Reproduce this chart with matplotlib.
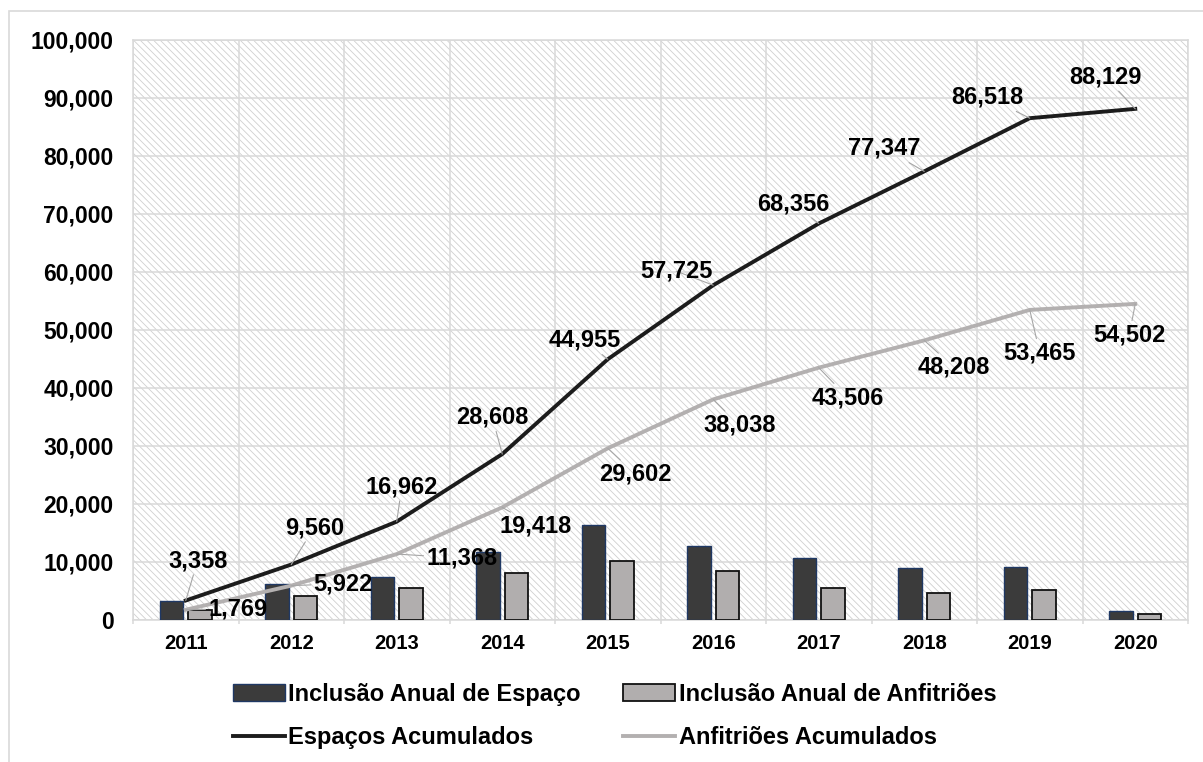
import matplotlib
matplotlib.use("Agg")
import matplotlib.pyplot as plt
from matplotlib.patches import Rectangle
from matplotlib.ticker import FuncFormatter, MultipleLocator
import numpy as np

# data
years = ["2011", "2012", "2013", "2014", "2015", "2016", "2017", "2018", "2019", "2020"]
espacos_anual = [3358, 6202, 7402, 11646, 16347, 12770, 10631, 8991, 9171, 1611]
anfitrioes_anual = [1769, 4153, 5446, 8050, 10184, 8436, 5468, 4702, 5257, 1037]
espacos_acum = [3358, 9560, 16962, 28608, 44955, 57725, 68356, 77347, 86518, 88129]
anfitrioes_acum = [1769, 5922, 11368, 19418, 29602, 38038, 43506, 48208, 53465, 54502]

# label offsets in pixels (dx, dy) from each point
esp_offsets = [(12, 40), (23, 37), (5, 35), (-10, 37), (-23, 19),
               (-37, 14), (-25, 20), (-40, 23), (-42, 21), (-30, 32)]
anf_offsets = [(52, 1), (52, 2), (65, -4), (33, -19), (28, -26),
               (26, -26), (29, -30), (30, -27), (10, -43), (-6, -31)]

plt.rcParams["font.family"] = ["Liberation Sans", "DejaVu Sans"]
plt.rcParams["font.weight"] = "bold"
plt.rcParams["hatch.linewidth"] = 0.6

fig = plt.figure(figsize=(12.03, 7.62), dpi=100)
ax = fig.add_axes([133 / 1203, 1 - 620 / 762, 1055 / 1203, 580 / 762])

# outer chart border
fig.patches.append(Rectangle((9 / 1203, -0.05), 1.2, 1 - 11 / 762 + 0.05,
                             transform=fig.transFigure, fill=False,
                             edgecolor="#d9d9d9", linewidth=1.2, zorder=0))

# hatched plot area
ax.add_patch(Rectangle((0, 0), 1, 1, transform=ax.transAxes, facecolor="white",
                       edgecolor="#d0d0d0", hatch="\\\\\\\\\\", linewidth=0, zorder=0))

x = np.arange(len(years))
w = 0.22
b1 = ax.bar(x - 0.135, espacos_anual, w, color="#3b3b3b", edgecolor="#1f3864",
            linewidth=1.0, zorder=3)
b2 = ax.bar(x + 0.135, anfitrioes_anual, w, color="#b1aeae", edgecolor="#111111",
            linewidth=1.3, zorder=3)
l1, = ax.plot(x, espacos_acum, color="#1c1c1c", linewidth=2.8, zorder=4,
              solid_joinstyle="miter")
l2, = ax.plot(x, anfitrioes_acum, color="#b3b0b0", linewidth=2.8, zorder=4,
              solid_joinstyle="miter")

for xi, v, off in zip(x, espacos_acum, esp_offsets):
    ax.annotate(f"{v:,}", (xi, v), xytext=off, textcoords="offset pixels",
                ha="center", va="center", fontsize=17, fontweight="bold", zorder=6,
                arrowprops=dict(arrowstyle="-", color="#a6a6a6", lw=0.8,
                                shrinkA=0, shrinkB=0))
for xi, v, off in zip(x, anfitrioes_acum, anf_offsets):
    ax.annotate(f"{v:,}", (xi, v), xytext=off, textcoords="offset pixels",
                ha="center", va="center", fontsize=17, fontweight="bold", zorder=6,
                arrowprops=dict(arrowstyle="-", color="#a6a6a6", lw=0.8,
                                shrinkA=0, shrinkB=0))

ax.set_xlim(-0.5, len(years) - 0.5)
ax.set_ylim(0, 100000)
ax.yaxis.set_major_locator(MultipleLocator(10000))
ax.yaxis.set_major_formatter(FuncFormatter(lambda v, p: f"{v:,.0f}"))
ax.set_xticks(x)
ax.set_xticklabels(years)
ax.set_xticks(np.arange(-0.5, len(years)), minor=True)

ax.tick_params(axis="y", length=0, pad=14, labelsize=16.5)
ax.tick_params(axis="x", which="major", length=0, pad=10, labelsize=14.5)
ax.tick_params(axis="x", which="minor", length=3, width=1.1, color="#d9d9d9")

ax.grid(axis="y", which="major", color="#d9d9d9", linewidth=1.1, zorder=1)
ax.grid(axis="x", which="minor", color="#d9d9d9", linewidth=1.1, zorder=1)
ax.set_axisbelow(True)
for s in ax.spines.values():
    s.set_color("#d9d9d9")
    s.set_linewidth(1.1)

# column-major fill: bars on the first row, lines on the second
handles = [b1, l1, b2, l2]
labels = ["Inclusão Anual de Espaço", "Espaços Acumulados",
          "Inclusão Anual de Anfitriões", "Anfitriões Acumulados"]
fig.legend(handles, labels, ncol=2,
           loc="upper left", bbox_to_anchor=(233 / 1203, 1 - 683 / 762),
           frameon=False, fontsize=17, handlelength=2.2, handletextpad=0.15,
           columnspacing=1.8, labelspacing=0.85, borderpad=0, borderaxespad=0)

fig.savefig("out.png", dpi=100)
